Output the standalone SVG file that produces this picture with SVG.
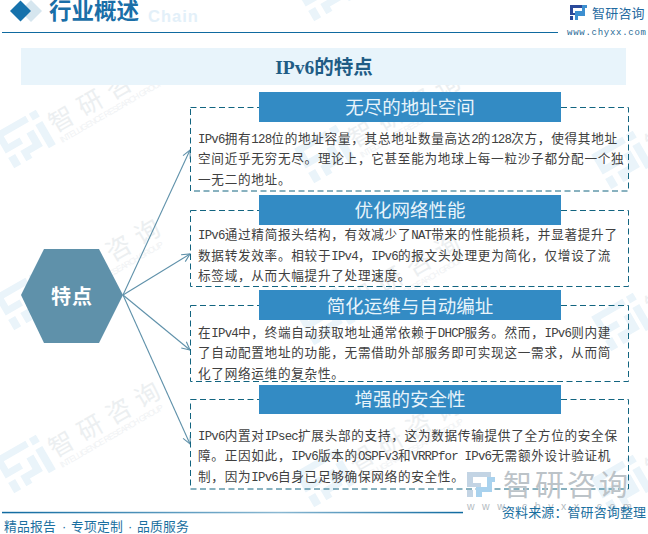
<svg xmlns="http://www.w3.org/2000/svg" xmlns:xlink="http://www.w3.org/1999/xlink" width="648" height="534" viewBox="0 0 648 534">
<style>
text{font-family:"Liberation Sans","Noto Sans CJK SC",sans-serif}
.b{font-size:12.6px;letter-spacing:.73px;fill:#404040}
.l{font-family:"Liberation Mono",monospace;font-size:12.4px;letter-spacing:-.77px}
.h{font-size:18.5px;fill:#e8f4fb;text-anchor:middle}
.hb{fill:#338bc4}
.d{fill:none;stroke:#126480;stroke-width:1;stroke-dasharray:6 3.5}
.c{fill:none;stroke:#5f91aa;stroke-width:1.1;marker-end:url(#a)}
.wm{font-size:25px;fill:#eceff1;letter-spacing:8px}
.ws{font-size:8.5px;fill:#f0f2f4;font-family:"Liberation Sans",sans-serif}
.lg{fill:#eaf4fa}
</style>
<defs>
<marker id="a" markerUnits="userSpaceOnUse" markerWidth="14" markerHeight="14" refX="10" refY="6" orient="auto"><path d="M2 2L10 6L2 10" fill="none" stroke="#5f91aa" stroke-width="1.1"/></marker>
<linearGradient id="fl" x1="0" x2="1" y1="0" y2="0"><stop offset="0" stop-color="#0f6aa0"/><stop offset="0.6" stop-color="#8ab8d2"/><stop offset="1" stop-color="#0f6aa0"/></linearGradient>
<g id="wmk">
<g transform="rotate(-30)">
<path class="lg" d="M-24 -20H12V-13H-17V-4H-4V3H-24Z"/>
<path class="lg" d="M-24 8H-16V20H-24Z"/>
<path class="lg" d="M-10 8H4V-4H12V15H-3V20H-10Z"/>
<path class="lg" d="M16 -20H24V-12H16ZM16 -7H24V20H16Z"/>
<text class="wm" x="29" y="10">智研咨询</text>
<text class="ws" x="30" y="22" textLength="118">INTELLIGENCE RESEARCH GROUP</text>
</g>
</g>
</defs>
<g id="watermarks">
<use xlink:href="#wmk" href="#wmk" x="25" y="139"/>
<use xlink:href="#wmk" href="#wmk" x="25" y="301"/>
<use xlink:href="#wmk" href="#wmk" x="25" y="464"/>
<use xlink:href="#wmk" href="#wmk" x="325" y="-8"/>
<use xlink:href="#wmk" href="#wmk" x="325" y="154"/>
<use xlink:href="#wmk" href="#wmk" x="325" y="316"/>
<use xlink:href="#wmk" href="#wmk" x="325" y="478"/>
<use xlink:href="#wmk" href="#wmk" x="622" y="160"/>
<use xlink:href="#wmk" href="#wmk" x="622" y="322"/>
<use xlink:href="#wmk" href="#wmk" x="622" y="484"/>
</g>
<g id="header">
<path d="M31 0L42 11L31 22L20 11Z" fill="#d6e6ef"/>
<path d="M20.500 0.500L31 11L20.500 21.500L10 11Z" fill="#1672ac"/>
<text x="148" y="22" font-size="16.500" font-weight="700" fill="#e3f0f9" letter-spacing="1" style="font-family:'Liberation Sans',sans-serif">Chain</text>
<text x="49" y="19" font-size="22.500" font-weight="700" fill="#1a6fa8">行业概述</text>
<path d="M2 32.500H558" stroke="#0f6aa0" stroke-width="1.200"/>
<path d="M570 5H583V8H573V13H578V15H570ZM570 16H573V20H570Z" fill="#2b4a9a"/>
<path d="M575 11H582V5H587V8H585V16H578V20H575Z" fill="#3d8fd0"/>
<text x="592" y="18" font-size="13" fill="#1f6aa0" letter-spacing="0.200">智研咨询</text>
<text x="567" y="35" font-size="9" fill="#2a6a96" style="font-family:'Liberation Mono',monospace" textLength="79">www.chyxx.com</text>
</g>
<g id="title">
<rect x="21" y="48" width="605" height="37" fill="#e8f4fb"/>
<text x="324" y="74" font-size="19.500" font-weight="700" fill="#1f5c85" text-anchor="middle" style="font-family:'Liberation Serif','Noto Sans CJK SC',serif">IPv6的特点</text>
</g>
<g id="connectors">
<path class="c" d="M123 295L190 150"/>
<path class="c" d="M123 295L190 254"/>
<path class="c" d="M123 295L190 350"/>
<path class="c" d="M123 295L190 444"/>
</g>
<g id="hub">
<path d="M21 295L44 249H99L123 295L99 343H44Z" fill="#5f91aa"/>
<text x="72" y="304" font-size="20" font-weight="700" fill="#fff" text-anchor="middle" letter-spacing="1">特点</text>
</g>
<g id="node1">
<rect class="d" x="190.500" y="107.500" width="438" height="83.500"/>
<rect class="hb" x="259" y="92" width="302" height="30"/>
<text class="h" x="410" y="114">无尽的地址空间</text>
<text class="b" x="198" y="143"><tspan class="l">IPv6</tspan>拥有<tspan class="l">128</tspan>位的地址容量，其总地址数量高达<tspan class="l">2</tspan>的<tspan class="l">128</tspan>次方，使得其地址</text>
<text class="b" x="198" y="163">空间近乎无穷无尽。理论上，它甚至能为地球上每一粒沙子都分配一个独</text>
<text class="b" x="198" y="184">一无二的地址。</text>
</g>
<g id="node2">
<rect class="d" x="190.500" y="210.500" width="438" height="76"/>
<rect class="hb" x="259" y="195" width="302" height="30"/>
<text class="h" x="410" y="217">优化网络性能</text>
<text class="b" x="198" y="239"><tspan class="l">IPv6</tspan>通过精简报头结构，有效减少了<tspan class="l">NAT</tspan>带来的性能损耗，并显著提升了</text>
<text class="b" x="198" y="260">数据转发效率。相较于<tspan class="l">IPv4</tspan>，<tspan class="l">IPv6</tspan>的报文头处理更为简化，仅增设了流</text>
<text class="b" x="198" y="280">标签域，从而大幅提升了处理速度。</text>
</g>
<g id="node3">
<rect class="d" x="190.500" y="305.500" width="438" height="76"/>
<rect class="hb" x="259" y="290" width="302" height="30"/>
<text class="h" x="410" y="313">简化运维与自动编址</text>
<text class="b" x="198" y="337">在<tspan class="l">IPv4</tspan>中，终端自动获取地址通常依赖于<tspan class="l">DHCP</tspan>服务。然而，<tspan class="l">IPv6</tspan>则内建</text>
<text class="b" x="198" y="357">了自动配置地址的功能，无需借助外部服务即可实现这一需求，从而简</text>
<text class="b" x="198" y="378">化了网络运维的复杂性。</text>
</g>
<g id="node4">
<rect class="d" x="190.500" y="399.500" width="438" height="89.500"/>
<rect class="hb" x="259" y="385" width="302" height="29"/>
<text class="h" x="410" y="406">增强的安全性</text>
<text class="b" x="198" y="440"><tspan class="l">IPv6</tspan>内置对<tspan class="l">IPsec</tspan>扩展头部的支持，这为数据传输提供了全方位的安全保</text>
<text class="b" x="198" y="460">障。正因如此，<tspan class="l">IPv6</tspan>版本的<tspan class="l">OSPFv3</tspan>和<tspan class="l">VRRPfor IPv6</tspan>无需额外设计验证机</text>
<text class="b" x="198" y="481">制，因为<tspan class="l">IPv6</tspan>自身已足够确保网络的安全性。</text>
</g>
<g id="footer">
<path d="M467 472H491V477H473V483H481V487H467ZM467 490H473V497H467Z" fill="#c3d4e4"/>
<path d="M476 487H487V477H495V482H492V492H482V497H476Z" fill="#a9d2ee"/>
<text x="503" y="496" font-size="29" fill="#bcc3c8" letter-spacing="3">智研咨询</text>
<text x="467" y="510" font-size="10.500" fill="#b5bcc2" letter-spacing="7.500" style="font-family:'Liberation Sans',sans-serif">www.chyxx.com</text>
<rect x="2" y="511.800" width="461" height="1.500" fill="url(#fl)"/>
<text x="4" y="531" font-size="12.800" fill="#1a6fa0" letter-spacing=".2">精品报告<tspan x="62">·</tspan><tspan x="71">专项定制</tspan><tspan x="128">·</tspan><tspan x="137">品质服务</tspan></text>
<text x="502" y="517" font-size="13" fill="#1a6fa0" letter-spacing=".1">资料来源：智研咨询整理</text>
</g>
</svg>
